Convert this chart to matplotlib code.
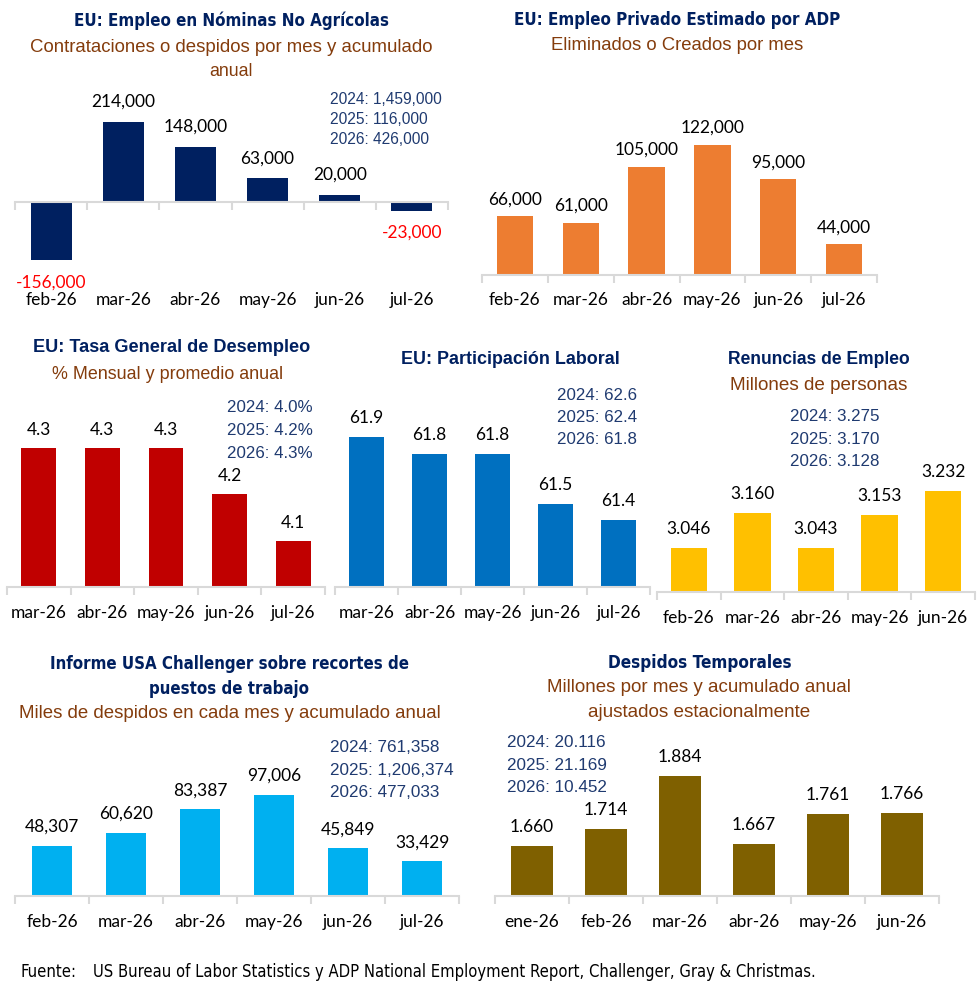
import os
import matplotlib
matplotlib.use("Agg")
import matplotlib.pyplot as plt
from matplotlib import font_manager
from matplotlib.font_manager import FontProperties
from matplotlib.transforms import blended_transform_factory

# ---------------- DATA ----------------
nfp_cats = ['feb-26', 'mar-26', 'abr-26', 'may-26', 'jun-26', 'jul-26']
nfp_vals = [-156000, 214000, 148000, 63000, 20000, -23000]
nfp_annual = ['2024: 1,459,000', '2025: 116,000', '2026: 426,000']

adp_cats = ['feb-26', 'mar-26', 'abr-26', 'may-26', 'jun-26', 'jul-26']
adp_vals = [66000, 61000, 105000, 122000, 95000, 44000]

unemp_cats = ['mar-26', 'abr-26', 'may-26', 'jun-26', 'jul-26']
unemp_vals = [4.3, 4.3, 4.3, 4.2, 4.1]
unemp_annual = ['2024: 4.0%', '2025: 4.2%', '2026: 4.3%']

part_cats = ['mar-26', 'abr-26', 'may-26', 'jun-26', 'jul-26']
part_vals = [61.9, 61.8, 61.8, 61.5, 61.4]
part_annual = ['2024: 62.6', '2025: 62.4', '2026: 61.8']

quits_cats = ['feb-26', 'mar-26', 'abr-26', 'may-26', 'jun-26']
quits_vals = [3.046, 3.160, 3.043, 3.153, 3.232]
quits_annual = ['2024: 3.275', '2025: 3.170', '2026: 3.128']

chal_cats = ['feb-26', 'mar-26', 'abr-26', 'may-26', 'jun-26', 'jul-26']
chal_vals = [48307, 60620, 83387, 97006, 45849, 33429]
chal_annual = ['2024: 761,358', '2025: 1,206,374', '2026: 477,033']

temp_cats = ['ene-26', 'feb-26', 'mar-26', 'abr-26', 'may-26', 'jun-26']
temp_vals = [1.660, 1.714, 1.884, 1.667, 1.761, 1.766]
temp_annual = ['2024: 20.116', '2025: 21.169', '2026: 10.452']

# ---------------- FONTS ----------------
names = {f.name for f in font_manager.fontManager.ttflist}
ARIAL = 'Liberation Sans' if 'Liberation Sans' in names else 'DejaVu Sans'
LABEL = 'Lato' if 'Lato' in names else 'DejaVu Sans'


def find_condensed(bold):
    prefs = ['liberationsansnarrow', 'dejavusanscondensed', 'robotocondensed',
             'opensanscondensed', 'notosanscondensed', 'narrow', 'condensed']
    best = None
    best_rank = 99
    for f in font_manager.fontManager.ttflist:
        base = os.path.basename(f.fname).lower().replace('-', '').replace('_', '')
        if 'italic' in base or 'oblique' in base:
            continue
        is_bold = 'bold' in base and 'semibold' not in base and 'extrabold' not in base
        if is_bold != bold:
            continue
        if not bold and any(k in base for k in ['light', 'medium', 'black', 'thin', 'semibold']):
            continue
        for r, p in enumerate(prefs):
            if p in base:
                if r < best_rank:
                    best_rank = r
                    best = f.fname
                break
    return best


COND_B = find_condensed(True)
COND_R = find_condensed(False)


def prop_cond(bold, size):
    fn = COND_B if bold else COND_R
    if fn:
        return FontProperties(fname=fn, size=size)
    return FontProperties(family=ARIAL, weight='bold' if bold else 'normal', size=size)


NAVY = '#002060'
ANNOT = '#1F3A70'
BROWN = '#843C0C'
AXIS = '#D9D9D9'

W, H = 980, 995
fig = plt.figure(figsize=(W / 100, H / 100), dpi=100)
fig.patch.set_facecolor('white')


def fx(px):
    return px / W


def fy(py):
    return 1 - py / H


def ftext(x, y, s, ha='center', fit=None, **kw):
    t = fig.text(fx(x), fy(y), s, ha=ha, va='center', **kw)
    if fit is not None:
        r = fig.canvas.get_renderer()
        w = t.get_window_extent(r).width
        t.set_fontsize(t.get_fontsize() * fit / w)
    return t


def ctext(x, y, s, bold, size, fit, ha='center', color=NAVY):
    # condensed text; fitted to the reference width
    t = fig.text(fx(x), fy(y), s, ha=ha, va='center', color=color,
                 fontproperties=prop_cond(bold, size))
    r = fig.canvas.get_renderer()
    w = t.get_window_extent(r).width
    t.set_fontsize(t.get_fontsize() * fit / w)
    return t


def panel(cats, vals, color, x0, x1, ybase, vbase, yref, vref, ylab,
          fmt, ytop=None, ybot=None, width=0.55, off=20):
    if ytop is None:
        ytop = ybase - 230
    if ybot is None:
        ybot = ybase
    scale = (ybase - yref) / (vref - vbase)
    lo = vbase - (ybot - ybase) / scale
    hi = vbase + (ybase - ytop) / scale
    ax = fig.add_axes([fx(x0), fy(ybot), (x1 - x0) / W, (ybot - ytop) / H])
    ax.set_facecolor('none')
    n = len(cats)
    ax.set_xlim(-0.5, n - 0.5)
    ax.set_ylim(lo, hi)
    ax.bar(range(n), [v - vbase for v in vals], bottom=vbase, width=width,
           color=color, edgecolor='none', zorder=2)
    for s in ['top', 'right', 'left']:
        ax.spines[s].set_visible(False)
    ax.spines['bottom'].set_position(('data', vbase))
    ax.spines['bottom'].set_color(AXIS)
    ax.spines['bottom'].set_linewidth(1.5)
    ax.spines['bottom'].set_zorder(3)
    ax.set_yticks([])
    ax.set_xticks(range(n))
    ax.set_xticklabels([])
    ax.tick_params(axis='x', which='major', length=0)
    ax.set_xticks([i - 0.5 for i in range(n + 1)], minor=True)
    ax.tick_params(axis='x', which='minor', length=6, width=1.5, color=AXIS,
                   direction='out')
    tr = blended_transform_factory(ax.transData, fig.transFigure)
    for i, c in enumerate(cats):
        ax.text(i, fy(ylab), c, transform=tr, ha='center', va='center',
                fontsize=12.5, family=LABEL, color='#000000')
    for i, v in enumerate(vals):
        neg = v < vbase
        ax.annotate(fmt(v), (i, v), xytext=(0, (-off if neg else off) * 0.72),
                    textcoords='offset points', ha='center', va='center',
                    fontsize=12.5, family=LABEL,
                    color='#FF0000' if neg else '#000000', annotation_clip=False)
    return ax


def fmt_int(v):
    return f'{v:,}'


# ---------------- PANEL 1: NFP ----------------
panel(nfp_cats, nfp_vals, '#002060', 15, 448, 203, 0, 123, 214000, 300,
      fmt_int, ytop=90, ybot=290, width=0.57, off=21)
ctext(231, 21, 'EU: Empleo en Nóminas No Agrícolas', True, 15, 317)
ftext(231, 47, 'Contrataciones o despidos por mes y acumulado', family=ARIAL,
      color=BROWN, fontsize=14, fit=408)
ftext(231, 71, 'anual', family=ARIAL, color=BROWN, fontsize=14, fit=44)
for k, s in enumerate(nfp_annual):
    ftext(330, 100 + 20 * k, s, ha='left', family=ARIAL, color=ANNOT,
          fontsize=11.2)

# ---------------- PANEL 2: ADP ----------------
panel(adp_cats, adp_vals, '#ED7D31', 482, 877, 276, 20000, 146, 122000, 300,
      fmt_int, off=18)
ctext(677, 20, 'EU: Empleo Privado Estimado por ADP', True, 15, 327)
ftext(677, 46, 'Eliminados o Creados por mes', family=ARIAL, color=BROWN,
      fontsize=14, fit=255)

# ---------------- PANEL 3: Unemployment ----------------
panel(unemp_cats, unemp_vals, '#C00000', 7, 325, 588, 4.0, 449, 4.3, 613,
      lambda v: f'{v:.1f}', off=19)
ftext(172, 347, 'EU: Tasa General de Desempleo', family=ARIAL, weight='bold',
      color=NAVY, fontsize=13.5, fit=277)
ftext(168, 375, '% Mensual y promedio anual', family=ARIAL, color=BROWN,
      fontsize=13.5, fit=231)
for k, s in enumerate(unemp_annual):
    ftext(227, 408 + 22.5 * k, s, ha='left', family=ARIAL, color=ANNOT,
          fontsize=12.2)

# ---------------- PANEL 4: Participation ----------------
panel(part_cats, part_vals, '#0070C0', 335, 650, 588, 61.0, 438, 61.9, 613,
      lambda v: f'{v:.1f}')
ftext(510, 360, 'EU: Participación Laboral', family=ARIAL, weight='bold',
      color=NAVY, fontsize=13.5, fit=217)
for k, s in enumerate(part_annual):
    ftext(557, 395 + 22.5 * k, s, ha='left', family=ARIAL, color=ANNOT,
          fontsize=12.2)

# ---------------- PANEL 5: Quits ----------------
panel(quits_cats, quits_vals, '#FFC000', 657, 975, 593, 2.9, 492, 3.232, 618,
      lambda v: f'{v:.3f}', width=0.57)
ftext(819, 360, 'Renuncias de Empleo', family=ARIAL, weight='bold',
      color=NAVY, fontsize=13.5, fit=182)
ftext(819, 385, 'Millones de personas', family=ARIAL, color=BROWN,
      fontsize=13.5, fit=178)
for k, s in enumerate(quits_annual):
    ftext(790, 417 + 22.5 * k, s, ha='left', family=ARIAL, color=ANNOT,
          fontsize=12.2)

# ---------------- PANEL 6: Challenger ----------------
panel(chal_cats, chal_vals, '#00B0F0', 15, 459, 897, 0, 796, 97006, 922,
      fmt_int)
t1 = ctext(229, 664, 'Informe USA Challenger sobre recortes de', True, 15, 360)
t2 = fig.text(fx(229), fy(689), 'puestos de trabajo', ha='center', va='center',
              color=NAVY, fontproperties=prop_cond(True, t1.get_fontsize()))
ftext(230, 714, 'Miles de despidos en cada mes y acumulado anual', family=ARIAL,
      color=BROWN, fontsize=14, fit=425)
for k, s in enumerate(chal_annual):
    ftext(330, 748 + 22.5 * k, s, ha='left', family=ARIAL, color=ANNOT,
          fontsize=12.3)

# ---------------- PANEL 7: Temporary layoffs ----------------
panel(temp_cats, temp_vals, '#7F6000', 495, 939, 897, 1.5, 777, 1.884, 922,
      lambda v: f'{v:.3f}', width=0.56)
ctext(700, 663, 'Despidos Temporales', True, 15, 185)
ftext(699, 688, 'Millones por mes y acumulado anual', family=ARIAL,
      color=BROWN, fontsize=14, fit=306)
ftext(699, 713, 'ajustados estacionalmente', family=ARIAL, color=BROWN,
      fontsize=14, fit=225)
for k, s in enumerate(temp_annual):
    ftext(507, 743 + 22.5 * k, s, ha='left', family=ARIAL, color=ANNOT,
          fontsize=12.3)

# ---------------- FOOTER ----------------
ctext(20, 972, 'Fuente:', False, 14, 56, ha='left', color='#000000')
ctext(93, 972, 'US Bureau of Labor Statistics y ADP National Employment Report, '
      'Challenger, Gray & Christmas.', False, 14, 727, ha='left', color='#000000')

fig.savefig('out.png', dpi=100, facecolor='white')
